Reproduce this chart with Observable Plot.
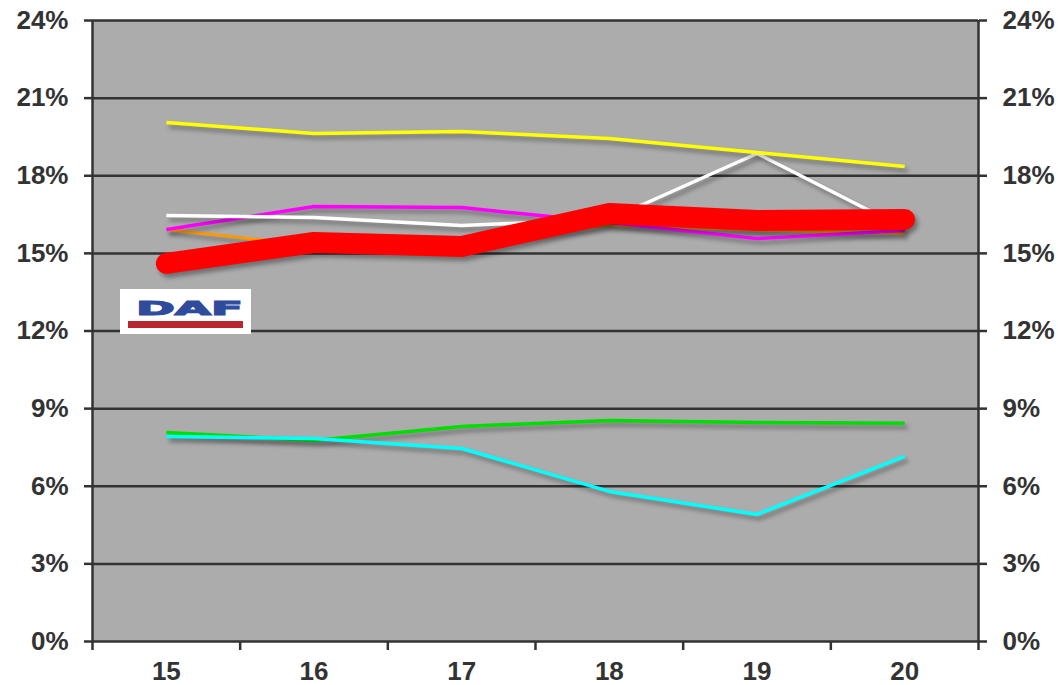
<!DOCTYPE html>
<html>
<head>
<meta charset="utf-8">
<script src="https://cdn.jsdelivr.net/npm/d3@7"></script>
<script src="https://cdn.jsdelivr.net/npm/@observablehq/plot@0.6"></script>
<style>
  html, body { margin: 0; padding: 0; background: #fff; }
  #wrap { position: relative; width: 1059px; height: 685px; }
  #logo { position: absolute; left: 120px; top: 289px; width: 131px; height: 45px; background: #fff; }
</style>
</head>
<body>
<div id="wrap">
  <div id="chart"></div>
  <div id="logo">
    <svg width="131" height="45">
      <text x="16" y="26" font-family="DejaVu Sans" font-weight="bold" font-size="20" fill="#2f4c9c" stroke="#2f4c9c" stroke-width="1.2" textLength="107" lengthAdjust="spacingAndGlyphs">DAF</text>
      <rect x="8" y="32" width="115" height="7" fill="#b8262f"></rect>
    </svg>
  </div>
</div>
<script>
// categories (years, '15 .. '20)
const years = [15, 16, 17, 18, 19, 20];
// y tick values (%)
const yTicks = [0, 3, 6, 9, 12, 15, 18, 21, 24];
// series values (%)
const yellowVals  = [20.06, 19.63, 19.71, 19.44, 18.90, 18.36];
const whiteVals   = [16.46, 16.39, 16.08, 16.31, 18.86, 15.96];
const magentaVals = [15.92, 16.81, 16.77, 16.19, 15.57, 15.88];
const orangeVals  = [15.92, 15.30, 15.45, 16.10, 15.90, 15.77];
const redVals     = [14.61, 15.42, 15.27, 16.54, 16.27, 16.31];
const greenVals   = [8.08, 7.77, 8.31, 8.54, 8.46, 8.43];
const cyanVals    = [7.92, 7.85, 7.46, 5.80, 4.91, 7.15];

const seriesList = [
  {name: "orange",  values: orangeVals,  color: "#ff9900", width: 3},
  {name: "magenta", values: magentaVals, color: "#ff00ff", width: 3.5},
  {name: "white",   values: whiteVals,   color: "#ffffff", width: 3.5},
  {name: "yellow",  values: yellowVals,  color: "#ffff00", width: 3.5},
  {name: "green",   values: greenVals,   color: "#00dd00", width: 3.5},
  {name: "cyan",    values: cyanVals,    color: "#00ffff", width: 3.5},
  {name: "red",     values: redVals,     color: "#ff0000", width: 21}
];
const rows = s => years.map((yr, i) => ({x: yr, y: s.values[i]}));

const bounds = [14.5, 15.5, 16.5, 17.5, 18.5, 19.5, 20.5];
const font = {fontFamily: "Liberation Sans, Arial, sans-serif", fontSize: 26, fontWeight: "bold"};

const chart = Plot.plot({
  width: 1059,
  height: 685,
  marginLeft: 92,
  marginRight: 81,
  marginTop: 20,
  marginBottom: 44,
  style: {background: "transparent", color: "#333", ...font},
  x: {type: "linear", domain: [14.5, 20.5]},
  y: {domain: [0, 24]},
  marks: [
    Plot.frame({fill: "#acacac", stroke: null}),
    Plot.ruleY(yTicks, {stroke: "#333", strokeWidth: 2.5}),
    Plot.ruleX([14.5, 20.5], {stroke: "#333", strokeWidth: 2.5}),
    ...seriesList.map(s => Plot.line(rows(s), {
      x: "x", y: "y", stroke: s.color, strokeWidth: s.width,
      strokeLinecap: s.name === "red" ? "round" : "butt",
      strokeLinejoin: "round"
    })),
    Plot.axisY(yTicks, {anchor: "left", tickSize: 8, tickPadding: 16, tickFormat: d => d + "%", stroke: "#333", strokeWidth: 2.5, ...font, label: null}),
    Plot.axisY(yTicks, {anchor: "right", tickSize: 8, tickPadding: 16, tickFormat: d => d + "%", stroke: "#333", strokeWidth: 2.5, ...font, label: null}),
    Plot.axisX(bounds, {anchor: "bottom", tickSize: 9, tickFormat: () => "", stroke: "#333", strokeWidth: 2.5, label: null}),
    Plot.axisX(years, {anchor: "bottom", tickSize: 0, tickPadding: 20, tickFormat: d => String(d), ...font, label: null})
  ]
});
document.getElementById("chart").appendChild(chart);

// soft drop shadow behind the series lines
d3.select(chart).selectAll("g[aria-label=line] path")
  .style("filter", "drop-shadow(3px 4px 2px rgba(0,0,0,0.35))");
</script>
</body>
</html>
